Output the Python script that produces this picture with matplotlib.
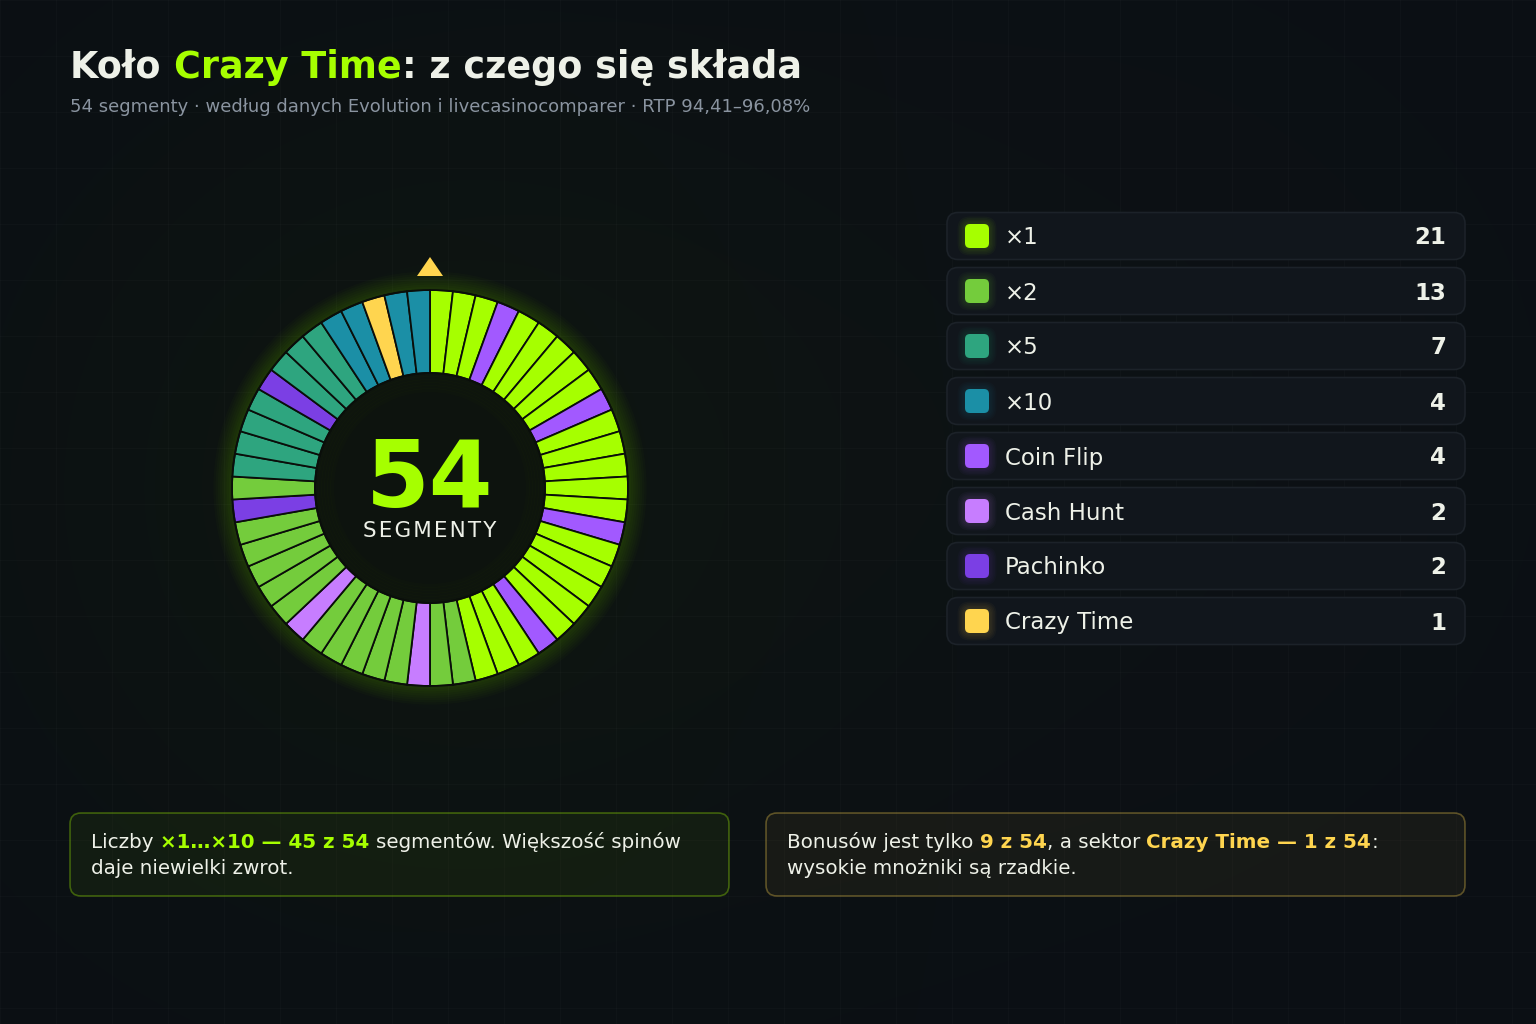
import matplotlib
matplotlib.use('Agg')
import matplotlib.pyplot as plt
from matplotlib.patches import FancyBboxPatch, Circle, Polygon
from matplotlib.colors import to_rgba
import numpy as np

plt.rcParams['font.family'] = ['DejaVu Sans']

# --- data -------------------------------------------------------------
labels = ['×1', '×2', '×5', '×10', 'Coin Flip', 'Cash Hunt', 'Pachinko', 'Crazy Time']
codes = ['1', '2', '5', '10', 'CF', 'CH', 'PA', 'CT']
counts = [21, 13, 7, 4, 4, 2, 2, 1]
colors = ['#a6ff00', '#74cc3c', '#2ea57f', '#1b8fa6', '#a259ff', '#c77dff', '#7b3fe4', '#ffd54f']

# wheel, clockwise from the pointer
wheel = ['1', '1', '1', 'CF', '1', '1', '1', '1', '1', 'CF',
         '1', '1', '1', '1', '1', 'CF', '1', '1', '1', '1',
         '1', 'CF', '1', '1', '1', '2', '2', 'CH', '2', '2',
         '2', '2', '2', 'CH', '2', '2', '2', '2', '2', 'PA',
         '2', '5', '5', '5', '5', 'PA', '5', '5', '5', '10',
         '10', 'CT', '10', '10']

title = ['Koło ', 'Crazy Time', ': z czego się składa']
subtitle = '54 segmenty · według danych Evolution i livecasinocomparer · RTP 94,41–96,08%'
center_num = '54'
center_lbl = 'SEGMENTY'
note_left = [[('Liczby ', 'w'), ('×1…×10 — 45 z 54', 'a'), (' segmentów. Większość spinów', 'w')],
             [('daje niewielki zwrot.', 'w')]]
note_right = [[('Bonusów jest tylko ', 'w'), ('9 z 54', 'a'), (', a sektor ', 'w'),
               ('Crazy Time — 1 z 54', 'a'), (':', 'w')],
              [('wysokie mnożniki są rzadkie.', 'w')]]

BG = '#0b0f14'
WHITE = '#eef1e8'
GREEN = '#a6ff00'
YELLOW = '#ffd54f'
GREY = '#8a94a0'

W, H = 1536, 1024
fig = plt.figure(figsize=(W / 100, H / 100), dpi=100)
fig.patch.set_facecolor(BG)
ax = fig.add_axes([0, 0, 1, 1])
ax.set_xlim(0, W)
ax.set_ylim(H, 0)
ax.axis('off')

# background with soft green glow around the wheel
cx, cy, R, r = 430, 488, 198, 115
yy, xx = np.mgrid[0:H, 0:W]
d = np.hypot(xx - cx, yy - cy)
g = np.exp(-(d / 430.0) ** 2)
d2 = np.hypot(xx - 1100, yy - 430)
g2 = np.exp(-(d2 / 520.0) ** 2)
base = np.array(to_rgba(BG)[:3])
img = base[None, None, :] + g[..., None] * np.array([0.010, 0.024, -0.012]) \
    + g2[..., None] * np.array([0.006, 0.008, 0.003])
ax.imshow(np.clip(img, 0, 1), extent=(0, W, H, 0), zorder=0, aspect='auto')

for gx in np.arange(0, W, 56):
    ax.plot([gx, gx], [0, H], color='white', alpha=0.018, lw=1, zorder=1)
for gy in np.arange(0, H, 56):
    ax.plot([0, W], [gy, gy], color='white', alpha=0.018, lw=1, zorder=1)

fig.canvas.draw()
rend = fig.canvas.get_renderer()


def text_w(s, size, weight):
    t = ax.text(0, 0, s, fontsize=size, fontweight=weight)
    w = t.get_window_extent(rend).width
    t.remove()
    return w


def rich(x, y, parts, size, zorder=5):
    sp = {}
    for txt, col, wt in parts:
        if wt not in sp:
            sp[wt] = text_w('a a', size, wt) - text_w('aa', size, wt)
        lead = len(txt) - len(txt.lstrip(' '))
        trail = len(txt) - len(txt.rstrip(' '))
        core = txt.strip(' ')
        x += lead * sp[wt]
        t = ax.text(x, y, core, color=col, fontsize=size, fontweight=wt,
                    va='baseline', ha='left', zorder=zorder)
        x += t.get_window_extent(rend).width + trail * sp[wt]
    return x


# title + subtitle
rich(70, 78, [(title[0], WHITE, 'bold'), (title[1], GREEN, 'bold'), (title[2], WHITE, 'bold')], 26.3)
ax.text(70, 112, subtitle, color=GREY, fontsize=13, va='baseline', ha='left', zorder=5)

# --- wheel ------------------------------------------------------------
for k in range(9):
    ax.add_patch(Circle((cx, cy), R + 1 + k * 2.2, color=GREEN, alpha=0.018, lw=0, zorder=2))
ax.add_patch(Circle((cx, cy), r + 2, color='#0d130e', lw=0, zorder=3))
for k in range(6):
    ax.add_patch(Circle((cx, cy), r - 2 - k * 3, fill=False, edgecolor=GREEN,
                        lw=3, alpha=0.012, zorder=3))

wax = fig.add_axes([(cx - R) / W, (H - cy - R) / H, 2 * R / W, 2 * R / H], zorder=4)
wax.patch.set_alpha(0)
seg_colors = [colors[codes.index(c)] for c in wheel]
wax.pie([1] * len(wheel), colors=seg_colors, startangle=90, counterclock=False,
        radius=1, wedgeprops=dict(width=(R - r) / R, edgecolor='#0a0e0a', linewidth=1.3))
wax.add_patch(Circle((0, 0), 1, fill=False, edgecolor='#0a0e0a', lw=1.3))
wax.add_patch(Circle((0, 0), r / R, fill=False, edgecolor='#0a0e0a', lw=1.3))
wax.set_xlim(-1, 1)
wax.set_ylim(-1, 1)
wax.axis('off')

# pointer
ax.add_patch(Polygon([(cx - 13, cy - 212), (cx + 13, cy - 212), (cx, cy - 231)],
                     closed=True, color=YELLOW, lw=0, zorder=6))

# center label
ax.text(cx, 507, center_num, color=GREEN, fontsize=66, fontweight='bold',
        ha='center', va='baseline', zorder=7)
ax.text(cx, 537, '\u200a'.join(center_lbl), color=WHITE, fontsize=15.5,
        ha='center', va='baseline', zorder=7)

# --- legend -----------------------------------------------------------
lx0, lx1 = 947, 1465
for i, (lab, n, col) in enumerate(zip(labels, counts, colors)):
    yc = 236 + i * 55
    ax.add_patch(FancyBboxPatch((lx0, yc - 23.5), lx1 - lx0, 47,
                                boxstyle='round,pad=0,rounding_size=11',
                                facecolor='#11161c', edgecolor='#1c2229', lw=1.2, zorder=3))
    for k in range(5):
        e = 1.5 + k * 1.5
        ax.add_patch(FancyBboxPatch((977 - 12 - e, yc - 12 - e), 24 + 2 * e, 24 + 2 * e,
                                    boxstyle='round,pad=0,rounding_size=%.1f' % (5 + e),
                                    facecolor=col, edgecolor='none', alpha=0.03, zorder=4))
    ax.add_patch(FancyBboxPatch((977 - 12, yc - 12), 24, 24,
                                boxstyle='round,pad=0,rounding_size=5',
                                facecolor=col, edgecolor='none', zorder=5))
    ax.text(1005, yc + 8.5, lab, color=WHITE, fontsize=16.5, va='baseline', ha='left', zorder=6)
    ax.text(1446, yc + 8.5, str(n), color=WHITE, fontsize=16.5, fontweight='bold',
            va='baseline', ha='right', zorder=6)

# --- notes ------------------------------------------------------------
boxes = [(70, 729, note_left, GREEN), (766, 1465, note_right, YELLOW)]
for bx0, bx1, lines, acc in boxes:
    ax.add_patch(FancyBboxPatch((bx0, 813), bx1 - bx0, 83,
                                boxstyle='round,pad=0,rounding_size=11',
                                facecolor=to_rgba(acc, 0.05), edgecolor=to_rgba(acc, 0.32),
                                lw=1.2, zorder=3))
    for j, line in enumerate(lines):
        parts = []
        for txt, key in line:
            if key == 'w':
                parts.append((txt, WHITE, 'normal'))
            else:
                parts.append((txt, acc, 'bold'))
        rich(bx0 + 21, 848 + j * 26, parts, 14.3)

fig.savefig('out.png', dpi=100, facecolor=BG)
